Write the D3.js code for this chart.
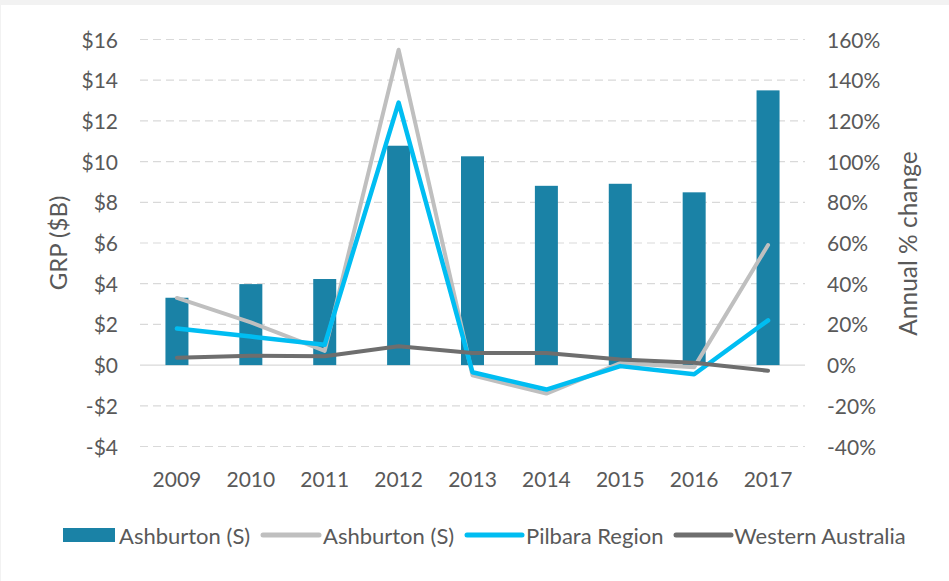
<!DOCTYPE html>
<html>
<head>
<meta charset="utf-8">
<script src="https://cdn.jsdelivr.net/npm/d3@7"></script>
<style>
  body { margin: 0; background: #f2f2f2; }
  svg { display: block; }
  text { font-family: Lato, "Open Sans", sans-serif; fill: #595959; }
</style>
</head>
<body>
<svg width="949" height="581"></svg>
<script>
var years      = ["2009", "2010", "2011", "2012", "2013", "2014", "2015", "2016", "2017"];
var grpValues  = [3.31, 3.98, 4.23, 10.78, 10.26, 8.81, 8.91, 8.49, 13.5];      // $B, bars
var ashburton  = [33, 21, 7, 155, -5, -14, 1, -1, 59];                          // % change
var pilbara    = [18, 14, 10, 129, -3.5, -12, -0.5, -4.5, 22];
var westernAus = [3.6, 4.6, 4.3, 9.3, 6, 6, 2.8, 1.2, -2.8];
var leftTicks  = [-4, -2, 0, 2, 4, 6, 8, 10, 12, 14, 16];
var rightTicks = [-40, -20, 0, 20, 40, 60, 80, 100, 120, 140, 160];

var lineSeries = [
  {name: "Ashburton (S)",     values: ashburton,  color: "#bfbfbf", width: 4},
  {name: "Pilbara Region",    values: pilbara,    color: "#00bdf2", width: 4.5},
  {name: "Western Australia", values: westernAus, color: "#6e6e6e", width: 4}
];

var svg = d3.select("svg");

svg.append("rect")
  .attr("x", 1).attr("y", 5)
  .attr("width", 948).attr("height", 576)
  .attr("fill", "#fff");

var x  = d3.scaleBand().domain(years).range([140, 805]),
    yL = d3.scaleLinear().domain([-4, 16]).range([446.5, 39.5]),
    yR = d3.scaleLinear().domain([-40, 160]).range([446.5, 39.5]);

// gridlines
svg.append("g")
  .selectAll("line")
  .data(leftTicks)
  .enter().append("line")
    .attr("x1", 140).attr("x2", 805)
    .attr("y1", d => yL(d)).attr("y2", d => yL(d))
    .attr("stroke", "#d9d9d9")
    .attr("stroke-width", 1.2)
    .attr("stroke-dasharray", d => d === 0 ? null : "8,5");

// left axis
var leftAxis = svg.append("g")
  .attr("transform", "translate(118,0)")
  .call(d3.axisLeft(yL).tickValues(leftTicks).tickSize(0).tickPadding(0)
          .tickFormat(d => (d < 0 ? "-$" : "$") + Math.abs(d)));
leftAxis.select(".domain").remove();
leftAxis.selectAll("text").style("font-size", "21px").attr("fill", "#595959").attr("dy", "0.36em");

// right axis
var rightAxis = svg.append("g")
  .attr("transform", "translate(827,0)")
  .call(d3.axisRight(yR).tickValues(rightTicks).tickSize(0).tickPadding(0)
          .tickFormat(d => d + "%"));
rightAxis.select(".domain").remove();
rightAxis.selectAll("text").style("font-size", "21px").attr("fill", "#595959").attr("dy", "0.36em");

// x axis labels
svg.append("g")
  .selectAll("text")
  .data(years)
  .enter().append("text")
    .attr("x", d => x(d) + x.bandwidth() / 2)
    .attr("y", 487)
    .attr("text-anchor", "middle")
    .style("font-size", "21px")
    .text(d => d);

// axis titles
svg.append("text")
  .attr("transform", "translate(67,243) rotate(-90)")
  .attr("text-anchor", "middle")
  .style("font-size", "24px")
  .text("GRP ($B)");

svg.append("text")
  .attr("transform", "translate(917,243.5) rotate(-90)")
  .attr("text-anchor", "middle")
  .style("font-size", "24.5px")
  .text("Annual % change");

// bars
var barW = 23;
svg.append("g")
  .selectAll("rect")
  .data(grpValues)
  .enter().append("rect")
    .attr("x", (d, i) => x(years[i]) + x.bandwidth() / 2 - barW / 2)
    .attr("y", d => yL(d))
    .attr("width", barW)
    .attr("height", d => yL(0) - yL(d))
    .attr("fill", "#1a82a6");

// lines
var line = d3.line()
  .x((d, i) => x(years[i]) + x.bandwidth() / 2)
  .y(d => yR(d));

svg.append("g")
  .selectAll("path")
  .data(lineSeries)
  .enter().append("path")
    .attr("d", d => line(d.values))
    .attr("fill", "none")
    .attr("stroke", d => d.color)
    .attr("stroke-width", d => d.width)
    .attr("stroke-linejoin", "round")
    .attr("stroke-linecap", "round");

// legend
var legend = svg.append("g");
legend.append("rect")
  .attr("x", 63).attr("y", 528)
  .attr("width", 52).attr("height", 14)
  .attr("fill", "#1a82a6");
legend.append("text")
  .attr("x", 119).attr("y", 544)
  .style("font-size", "22px")
  .text("Ashburton (S)");

var legendPos = [{x1: 263, x2: 319, tx: 323}, {x1: 467, x2: 522, tx: 526}, {x1: 676, x2: 731, tx: 734}];
lineSeries.forEach(function(s, i) {
  var p = legendPos[i];
  legend.append("line")
    .attr("x1", p.x1).attr("x2", p.x2)
    .attr("y1", 535).attr("y2", 535)
    .attr("stroke", s.color)
    .attr("stroke-width", 5)
    .attr("stroke-linecap", "round");
  legend.append("text")
    .attr("x", p.tx).attr("y", 544)
    .style("font-size", "22px")
    .text(s.name);
});
</script>
</body>
</html>
